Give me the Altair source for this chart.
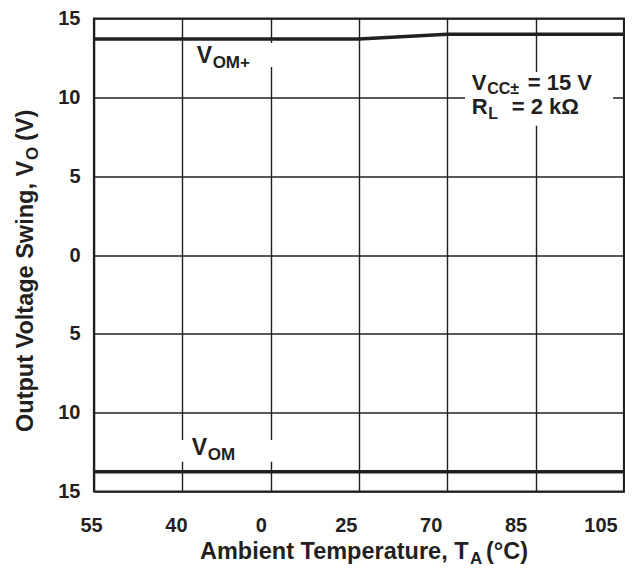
import altair as alt
import pandas as pd

# ---------------- data ----------------
x_idx = [0, 1, 2, 3, 4, 5, 6]
temp_labels = ["55", "40", "0", "25", "70", "85", "105"]
vom_plus = [13.7, 13.7, 13.7, 13.7, 14.0, 14.0, 14.0]
vom_minus = [-13.75, -13.75, -13.75, -13.75, -13.75, -13.75, -13.75]
y_ticks = [15, 10, 5, 0, -5, -10, -15]
y_tick_labels = ["15", "10", "5", "0", "5", "10", "15"]

# ---------------- style ----------------
FONT = "Liberation Sans"
INK = "#231f20"
W, H = 530, 473

lines_df = pd.DataFrame({
    "idx": x_idx + x_idx,
    "v": vom_plus + vom_minus,
    "series": ["VOM+"] * len(x_idx) + ["VOM-"] * len(x_idx),
})

xs = alt.Scale(domain=[0, 6], nice=False, zero=False)
ys = alt.Scale(domain=[-15, 15], nice=False, zero=False)

label_expr = " : ".join(
    f"datum.value == {v} ? '{l}'" for v, l in zip(y_ticks, y_tick_labels)
) + " : ''"

X_AX = alt.Axis(values=x_idx, grid=True, labels=False, ticks=False, domain=False,
                title=None, gridColor=INK, gridWidth=1.4, gridOpacity=1)
Y_AX = alt.Axis(values=y_ticks, grid=True, labelExpr=label_expr, ticks=False,
                domain=False, title=None, labelFont=FONT, labelFontSize=20,
                labelFontWeight="bold", labelColor=INK, labelPadding=14,
                gridColor=INK, gridWidth=1.4, gridOpacity=1)

lines = alt.Chart(lines_df).mark_line(color=INK, strokeWidth=3.5).encode(
    x=alt.X("idx:Q", scale=xs, axis=X_AX),
    y=alt.Y("v:Q", scale=ys, axis=Y_AX),
    detail="series:N",
)

# white masks behind annotations (layout, in axis units)
boxes_df = pd.DataFrame({
    "x0": [1.064, 0.951, 4.20],
    "x1": [2.106, 2.106, 5.876],
    "y0": [13.45, -11.73, 11.60],
    "y1": [11.92, -13.12, 8.20],
})
boxes = alt.Chart(boxes_df).mark_rect(color="white").encode(
    x=alt.X("x0:Q", scale=xs, axis=X_AX), x2="x1:Q",
    y=alt.Y("y0:Q", scale=ys, axis=Y_AX), y2="y1:Q",
)


def piece(text, x, y, size, dx=0, dy=0):
    df = pd.DataFrame({"t": [text], "x": [x], "y": [y]})
    return alt.Chart(df).mark_text(
        align="left", baseline="alphabetic", font=FONT, fontWeight="bold",
        fontSize=size, color=INK, dx=dx, dy=dy,
    ).encode(
        x=alt.X("x:Q", scale=xs, axis=X_AX),
        y=alt.Y("y:Q", scale=ys, axis=Y_AX),
        text="t:N",
    )


def px_piece(text, x, y, size, dx=0, dy=0, angle=0):
    df = pd.DataFrame({"t": [text]})
    kw = dict(align="left", baseline="alphabetic", font=FONT, fontWeight="bold",
              fontSize=size, color=INK, dx=dx, dy=dy)
    if angle:
        kw["angle"] = angle
    return alt.Chart(df).mark_text(**kw).encode(
        x=alt.value(x), y=alt.value(y), text="t:N")


MAIN, SUB = 22, 16
annotations = [
    piece("V", 1.162, 12.16, 23),
    piece("OM+", 1.162, 12.16, 17, dx=16, dy=5),
    piece("V", 1.107, -12.68, 23),
    piece("OM", 1.107, -12.68, 17, dx=16, dy=5),
    piece("V", 4.276, 10.44, MAIN),
    piece("CC±", 4.276, 10.44, SUB, dx=15.5, dy=4),
    piece("= 15 V", 4.276, 10.44, MAIN, dx=56),
    piece("R", 4.276, 8.92, MAIN),
    piece("L", 4.276, 8.92, SUB, dx=16.5, dy=4.5),
    piece("= 2 kΩ", 4.276, 8.92, MAIN, dx=40),
]

TS, TSUB = 23.5, 17
titles = [
    px_piece("Ambient Temperature, T", 106, 540, TS),
    px_piece("A", 106, 540, TSUB, dx=270, dy=5),
    px_piece("(°C)", 106, 540, TS, dx=286),
    px_piece("Output Voltage Swing, V", -61.3, 413.5, TS, angle=270),
    px_piece("O", -61.3, 413.5, TSUB, dx=272, dy=5, angle=270),
    px_piece("(V)", -61.3, 413.5, TS, dx=291, angle=270),
]

inner = alt.layer(boxes, lines, *annotations, *titles)

ticklab_df = pd.DataFrame({"idx": x_idx, "label": temp_labels})
ticklabels = alt.Chart(ticklab_df).mark_text(
    align="center", baseline="middle", font=FONT, fontWeight="bold",
    fontSize=20, color=INK,
).encode(
    x=alt.X("idx:Q", scale=alt.Scale(domain=[0.0283, 6.271], nice=False, zero=False), axis=None),
    y=alt.value(507),
    text="label:N",
)

chart = alt.layer(inner, ticklabels).resolve_scale(x="independent").properties(
    width=W, height=H,
    autosize=alt.AutoSizeParams(type="none"),
    padding={"left": 86, "top": 10.5, "right": 1, "bottom": 77.5},
).configure_view(stroke=INK, strokeWidth=2.2)

chart.save("out.html", embed_options={"renderer": "svg", "actions": False})
